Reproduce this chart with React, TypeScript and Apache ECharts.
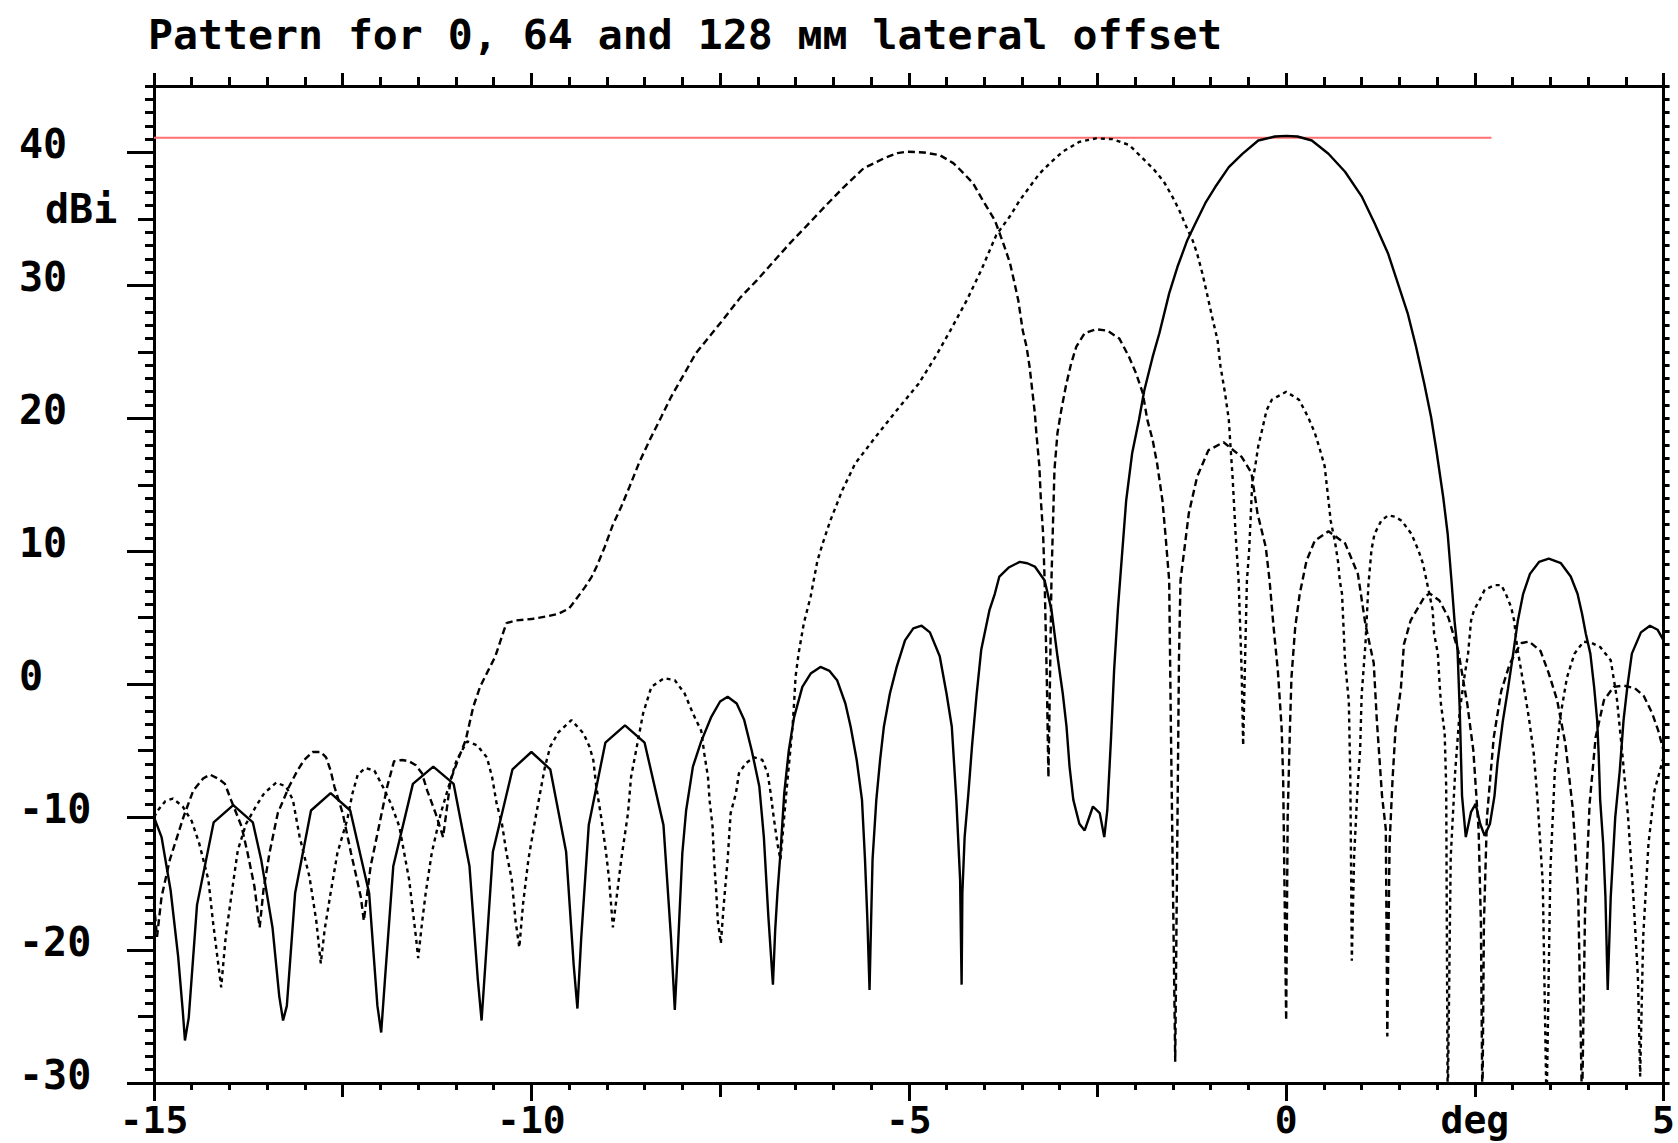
import React, { useEffect, useRef } from 'react';
import * as echarts from 'echarts';

const TITLE = 'Pattern for 0, 64 and 128 мм lateral offset';
const X_LABEL_VALUES = [-15, -10, -5, 0, 2.5, 5];
const X_LABEL_TEXTS = ['-15', '-10', '-5', '0', 'deg', '5'];
const Y_LABEL_VALUES = [40, 30, 20, 10, 0, -10, -20, -30];
const Y_UNIT_VALUE = 35;
const Y_UNIT = 'dBi';
const Y_MEDIUM_TICKS = [-25, -15, -5, 5, 15, 25, 35];
const Y_MAJOR_TICKS = [-30, -20, -10, 0, 10, 20, 30, 40];
const REFERENCE_LEVEL = 41.1;
const REFERENCE_START = -15;
const REFERENCE_END = 2.72;

// 0 mm lateral offset (solid)
const offset0mm: [number, number][] = [
  [-15.0, -10.0], [-14.9, -11.5], [-14.78, -15.5], [-14.68, -20.5], [-14.62, -24.5], [-14.59, -26.8],
  [-14.54, -25.1], [-14.43, -16.6], [-14.21, -10.4], [-13.95, -9.1], [-13.69, -10.4], [-13.58, -13.2], [-13.43, -18.3], [-13.34, -23.5], [-13.29, -25.3],
  [-13.24, -24.2], [-13.13, -15.7], [-12.92, -9.5], [-12.66, -8.2], [-12.4, -9.5], [-12.15, -15.7], [-12.04, -24.2], [-11.99, -26.2],
  [-11.94, -22.2], [-11.83, -13.7], [-11.57, -7.5], [-11.3, -6.2], [-11.03, -7.5], [-10.82, -13.7], [-10.71, -22.2], [-10.66, -25.3],
  [-10.61, -21.1], [-10.51, -12.6], [-10.25, -6.4], [-10.0, -5.1], [-9.75, -6.4], [-9.54, -12.6], [-9.44, -21.1], [-9.39, -24.4],
  [-9.34, -19.1], [-9.24, -10.6], [-9.02, -4.4], [-8.76, -3.1], [-8.5, -4.4], [-8.25, -10.6], [-8.15, -19.1], [-8.1, -24.5],
  [-8.06, -20.0], [-8.0, -12.7], [-7.95, -9.5], [-7.86, -6.2], [-7.75, -4.3], [-7.62, -2.5], [-7.5, -1.3], [-7.4, -0.95], [-7.28, -1.45], [-7.18, -2.7], [-7.08, -5.0], [-6.98, -7.7], [-6.92, -11.5], [-6.86, -17.5], [-6.8, -22.6],
  [-6.77, -18.5], [-6.74, -15.7], [-6.7, -12.7], [-6.65, -8.2], [-6.59, -5.0], [-6.52, -2.5], [-6.41, -0.2], [-6.3, 0.8], [-6.17, 1.3], [-6.05, 1.0], [-5.95, 0.3], [-5.84, -1.45], [-5.77, -3.2], [-5.69, -5.7], [-5.62, -8.7], [-5.58, -13.2], [-5.55, -17.5], [-5.52, -23.0],
  [-5.5, -18.0], [-5.48, -13.2], [-5.43, -8.7], [-5.38, -5.7], [-5.33, -3.2], [-5.25, -0.7], [-5.16, 1.3], [-5.05, 3.3], [-4.94, 4.2], [-4.83, 4.4], [-4.72, 3.9], [-4.59, 2.1], [-4.5, -0.7], [-4.43, -3.2], [-4.37, -8.7], [-4.32, -14.7], [-4.3, -22.6],
  [-4.29, -15.7], [-4.26, -11.5], [-4.21, -8.2], [-4.16, -4.5], [-4.1, -0.7], [-4.04, 2.6], [-3.93, 5.6], [-3.86, 6.8], [-3.8, 8.1], [-3.67, 8.8], [-3.53, 9.2], [-3.43, 9.1], [-3.33, 8.85], [-3.2, 7.8], [-3.11, 5.6], [-3.03, 2.1], [-2.96, -0.7], [-2.91, -3.2], [-2.87, -6.2], [-2.82, -8.7],
  [-2.74, -10.5], [-2.67, -11.0], [-2.56, -9.2], [-2.47, -9.7], [-2.41, -11.5], [-2.37, -9.5], [-2.32, -4.0], [-2.28, 1.0], [-2.23, 5.6], [-2.19, 8.6], [-2.12, 13.8], [-2.04, 17.4], [-1.95, 19.9], [-1.88, 22.1], [-1.77, 24.6], [-1.68, 26.4], [-1.55, 29.4], [-1.44, 31.4], [-1.31, 33.4], [-1.2, 34.7], [-1.07, 36.2], [-0.94, 37.4], [-0.76, 38.9], [-0.58, 39.9], [-0.37, 40.9], [-0.15, 41.2], [0.0, 41.25], [0.15, 41.2], [0.34, 40.9], [0.56, 39.9], [0.78, 38.55], [1.0, 36.7], [1.17, 34.7], [1.35, 32.4], [1.48, 30.15], [1.61, 27.9], [1.72, 25.4], [1.83, 22.6], [1.92, 20.1], [1.99, 17.6], [2.08, 14.1], [2.14, 11.3], [2.19, 7.8], [2.23, 4.8], [2.27, 2.6], [2.3, -2.0], [2.33, -8.4], [2.38, -11.5], [2.45, -9.6], [2.51, -9.0], [2.57, -10.5], [2.63, -11.4], [2.7, -10.5], [2.76, -8.4], [2.8, -5.9], [2.87, -2.8], [2.94, -0.3], [3.0, 2.0], [3.07, 4.8], [3.14, 6.8], [3.23, 8.3], [3.35, 9.2], [3.48, 9.45], [3.64, 9.1], [3.77, 8.1], [3.86, 6.8], [3.92, 5.3], [3.97, 3.8], [4.03, 2.3], [4.08, -0.2], [4.12, -2.7], [4.14, -5.2], [4.16, -8.7], [4.2, -12.0], [4.23, -16.0], [4.26, -23.0],
  [4.3, -16.0], [4.36, -10.0], [4.42, -6.5], [4.47, -2.7], [4.52, -0.2], [4.58, 2.3], [4.7, 3.9], [4.82, 4.4], [4.92, 4.1], [5.0, 3.3],
];

// 64 mm lateral offset (short dashes)
const offset64mm: [number, number][] = [
  [-15.0, -10.0], [-14.95, -9.5], [-14.85, -8.8], [-14.75, -8.6], [-14.62, -9.2], [-14.5, -10.3], [-14.4, -12.0], [-14.28, -14.7], [-14.22, -17.8], [-14.15, -21.0], [-14.11, -22.8],
  [-14.05, -19.0], [-13.97, -15.7], [-13.89, -12.5], [-13.78, -10.5], [-13.65, -9.2], [-13.54, -8.2], [-13.38, -7.4], [-13.25, -7.7], [-13.16, -8.7], [-13.07, -11.5], [-12.94, -14.5], [-12.85, -17.8], [-12.79, -21.0],
  [-12.74, -18.5], [-12.66, -15.7], [-12.57, -12.7], [-12.44, -10.2], [-12.37, -8.2], [-12.3, -6.8], [-12.2, -6.3], [-12.08, -6.5], [-11.96, -7.8], [-11.86, -9.0], [-11.75, -10.7], [-11.62, -14.7], [-11.53, -19.0], [-11.5, -20.6],
  [-11.45, -18.0], [-11.4, -15.7], [-11.32, -12.7], [-11.2, -9.7], [-11.07, -7.2], [-10.99, -5.7], [-10.85, -4.3], [-10.72, -4.6], [-10.59, -5.5], [-10.52, -7.0], [-10.46, -9.0], [-10.39, -10.5], [-10.33, -12.7], [-10.26, -14.7], [-10.21, -17.8], [-10.16, -19.8],
  [-10.11, -16.5], [-10.04, -13.2], [-9.95, -10.2], [-9.82, -6.2], [-9.75, -4.7], [-9.64, -3.6], [-9.47, -2.7], [-9.31, -3.7], [-9.23, -4.7], [-9.18, -5.7], [-9.14, -7.7], [-9.07, -10.2], [-9.01, -12.7], [-8.97, -14.7], [-8.92, -18.3],
  [-8.87, -16.0], [-8.81, -13.2], [-8.72, -9.7], [-8.68, -7.0], [-8.52, -2.2], [-8.41, -0.2], [-8.24, 0.45], [-8.1, 0.3], [-7.97, -0.7], [-7.86, -2.2], [-7.75, -3.5], [-7.71, -5.2], [-7.66, -7.0], [-7.64, -8.7], [-7.6, -10.7], [-7.58, -13.2], [-7.55, -15.7], [-7.53, -17.8], [-7.49, -19.5],
  [-7.45, -16.5], [-7.4, -13.2], [-7.36, -9.7], [-7.29, -8.2], [-7.25, -6.7], [-7.16, -5.95], [-7.05, -5.5], [-6.94, -5.7], [-6.87, -6.7], [-6.83, -8.2], [-6.79, -10.0], [-6.74, -12.0], [-6.7, -13.2],
  [-6.62, -8.0], [-6.54, -3.2], [-6.52, -1.45], [-6.5, 0.56], [-6.46, 2.3], [-6.39, 4.6], [-6.3, 6.6], [-6.21, 9.3], [-6.14, 10.6], [-6.04, 12.3], [-5.88, 14.6], [-5.71, 16.6], [-5.44, 18.6], [-5.16, 20.6], [-4.87, 22.6], [-4.65, 24.6], [-4.45, 26.6], [-4.23, 28.9], [-4.04, 31.15], [-3.84, 33.8], [-3.66, 35.2], [-3.53, 36.4], [-3.4, 37.4], [-3.27, 38.4], [-3.11, 39.3], [-2.96, 40.06], [-2.74, 40.8], [-2.52, 41.06], [-2.3, 41.0], [-2.08, 40.56], [-1.9, 39.56], [-1.75, 38.7], [-1.62, 37.8], [-1.51, 36.7], [-1.42, 35.7], [-1.33, 34.5], [-1.24, 33.4], [-1.18, 32.4], [-1.11, 30.9], [-1.05, 29.4], [-0.98, 27.6], [-0.91, 25.9], [-0.87, 23.9], [-0.81, 21.9], [-0.76, 19.9], [-0.74, 18.1], [-0.71, 15.6], [-0.67, 11.3], [-0.63, 7.8], [-0.59, 1.0], [-0.57, -4.6],
  [-0.54, 3.0], [-0.52, 7.8], [-0.49, 10.1], [-0.47, 12.6], [-0.45, 15.1], [-0.41, 16.4], [-0.37, 17.9], [-0.32, 19.1], [-0.26, 20.6], [-0.19, 21.4], [0.0, 22.0], [0.17, 21.4], [0.29, 20.1], [0.38, 18.9], [0.45, 17.6], [0.51, 16.4], [0.56, 13.85], [0.59, 12.3], [0.65, 10.6], [0.69, 9.1], [0.71, 7.8], [0.74, 6.8], [0.78, 1.7], [0.83, -1.3], [0.85, -7.1], [0.87, -20.8],
  [0.9, -13.0], [0.94, -8.4], [0.98, -4.9], [1.0, -0.8], [1.05, 3.0], [1.09, 7.5], [1.13, 10.1], [1.17, 11.3], [1.26, 12.3], [1.35, 12.7], [1.44, 12.6], [1.53, 12.3], [1.66, 11.3], [1.75, 10.1], [1.81, 9.1], [1.86, 7.8], [1.94, 5.6], [1.96, 3.8], [2.01, 2.3], [2.03, 0.3], [2.05, -1.45], [2.1, -3.7], [2.12, -7.7], [2.14, -32.0],
  [2.18, -13.0], [2.24, -6.5], [2.3, -2.0], [2.36, 0.5], [2.41, 2.3], [2.45, 4.8], [2.49, 5.6], [2.56, 6.3], [2.63, 7.1], [2.76, 7.45], [2.85, 7.45], [2.91, 6.8], [2.98, 5.8], [3.02, 4.8], [3.06, 2.8], [3.15, -0.2], [3.22, -2.7], [3.28, -5.2], [3.33, -8.7], [3.4, -15.0], [3.45, -32.0],
  [3.5, -14.0], [3.56, -6.5], [3.63, -2.5], [3.72, 0.5], [3.82, 2.3], [3.94, 3.2], [4.05, 3.1], [4.16, 2.8], [4.3, 1.8], [4.38, -1.0], [4.45, -5.0], [4.53, -10.0], [4.6, -16.0], [4.66, -22.0], [4.69, -29.5], [4.73, -19.0], [4.8, -12.0], [4.88, -8.0], [5.0, -5.5],
];

// 128 mm lateral offset (long dashes)
const offset128mm: [number, number][] = [
  [-15.0, -16.5], [-14.96, -19.0], [-14.9, -16.0], [-14.79, -13.2], [-14.61, -10.0], [-14.48, -8.0], [-14.35, -7.1], [-14.26, -6.8], [-14.15, -7.1], [-14.06, -7.5], [-13.98, -8.7], [-13.84, -10.7], [-13.76, -12.7], [-13.67, -15.2], [-13.6, -18.3],
  [-13.55, -15.5], [-13.47, -12.7], [-13.36, -9.7], [-13.21, -7.7], [-13.1, -6.5], [-13.01, -5.7], [-12.9, -5.1], [-12.79, -5.1], [-12.72, -5.5], [-12.66, -6.5], [-12.61, -7.7], [-12.5, -9.7], [-12.39, -12.7], [-12.33, -14.2], [-12.26, -16.0], [-12.22, -17.8],
  [-12.17, -15.5], [-12.13, -13.7], [-12.02, -10.7], [-11.91, -7.7], [-11.82, -5.8], [-11.71, -5.7], [-11.62, -5.8], [-11.53, -6.1], [-11.45, -6.7], [-11.38, -8.0], [-11.27, -9.7], [-11.17, -11.5],
  [-11.07, -7.2], [-10.96, -5.5], [-10.87, -4.2], [-10.77, -1.7], [-10.68, -0.2], [-10.57, 1.06], [-10.48, 2.06], [-10.39, 3.6], [-10.33, 4.6], [-10.2, 4.8], [-10.0, 4.9], [-9.8, 5.1], [-9.64, 5.3], [-9.5, 5.7], [-9.42, 6.3], [-9.29, 7.3], [-9.2, 8.1], [-9.14, 8.8], [-9.03, 10.3], [-8.92, 12.0], [-8.81, 13.35], [-8.7, 14.85], [-8.57, 16.7], [-8.43, 18.4], [-8.28, 20.1], [-8.15, 21.6], [-8.0, 23.1], [-7.82, 24.9], [-7.62, 26.3], [-7.45, 27.5], [-7.23, 29.1], [-7.01, 30.4], [-6.79, 31.8], [-6.57, 33.2], [-6.35, 34.5], [-6.1, 36.0], [-5.86, 37.4], [-5.6, 38.8], [-5.33, 39.56], [-5.15, 39.95], [-5.03, 40.06], [-4.8, 40.0], [-4.59, 39.8], [-4.41, 39.2], [-4.32, 38.7], [-4.15, 37.7], [-4.02, 36.4], [-3.86, 34.9], [-3.75, 33.2], [-3.66, 31.7], [-3.6, 30.2], [-3.55, 28.9], [-3.49, 26.6], [-3.44, 25.4], [-3.4, 23.9], [-3.36, 21.9], [-3.33, 20.4], [-3.31, 18.9], [-3.27, 16.4], [-3.25, 13.85], [-3.22, 11.3], [-3.2, 7.8], [-3.17, 0.0], [-3.15, -7.0],
  [-3.13, 0.0], [-3.11, 7.8], [-3.07, 16.1], [-3.03, 18.9], [-2.98, 20.6], [-2.92, 22.4], [-2.85, 24.1], [-2.78, 25.4], [-2.67, 26.4], [-2.52, 26.7], [-2.37, 26.6], [-2.21, 26.0], [-2.08, 24.6], [-1.99, 23.4], [-1.9, 21.9], [-1.84, 19.9], [-1.77, 18.4], [-1.71, 16.6], [-1.64, 13.85], [-1.6, 11.3], [-1.55, 7.8], [-1.53, -2.0], [-1.47, -28.4],
  [-1.42, 2.0], [-1.4, 7.8], [-1.29, 12.85], [-1.18, 15.6], [-1.03, 17.6], [-0.83, 18.2], [-0.59, 17.1], [-0.46, 15.9], [-0.38, 12.85], [-0.27, 10.3], [-0.22, 7.8], [-0.17, 4.5], [-0.11, 1.0], [-0.06, -3.3], [-0.04, -7.1], [0.0, -25.3],
  [0.02, -10.0], [0.05, -3.3], [0.07, 0.5], [0.12, 4.3], [0.18, 6.8], [0.27, 9.3], [0.38, 10.8], [0.56, 11.5], [0.78, 10.6], [0.95, 8.3], [1.05, 4.5], [1.16, 1.6], [1.2, -2.6], [1.27, -8.4], [1.32, -10.9], [1.34, -26.5],
  [1.37, -12.0], [1.41, -7.1], [1.45, -3.3], [1.52, -0.3], [1.56, 3.0], [1.65, 4.8], [1.83, 6.55], [1.9, 6.83], [2.03, 6.3], [2.15, 5.0], [2.28, 2.5], [2.4, -1.5], [2.48, -5.0], [2.55, -11.0], [2.58, -18.0], [2.6, -32.0],
  [2.62, -18.0], [2.66, -10.0], [2.75, -4.0], [2.85, -0.5], [2.96, 1.5], [3.06, 2.6], [3.12, 3.1], [3.22, 3.2], [3.37, 2.5], [3.48, 0.8], [3.59, -1.2], [3.7, -4.5], [3.8, -9.5], [3.87, -16.0], [3.92, -32.0],
  [3.96, -17.0], [4.02, -9.0], [4.1, -4.0], [4.21, -1.2], [4.34, -0.2], [4.47, -0.1], [4.62, -0.3], [4.74, -0.9], [4.85, -2.2], [4.93, -3.5], [5.0, -5.0],
];

const FONT = '"DejaVu Sans Mono", "Liberation Mono", monospace';
const BLACK = '#000000';

function xLabel(v: number): string {
  const i = X_LABEL_VALUES.findIndex((x) => Math.abs(x - v) < 1e-6);
  return i >= 0 ? X_LABEL_TEXTS[i] : '';
}

function yLabel(v: number): string {
  if (Math.abs(v - Y_UNIT_VALUE) < 1e-6) return '{u|' + Y_UNIT + '}';
  return Y_LABEL_VALUES.some((y) => Math.abs(y - v) < 1e-6) ? String(Math.round(v)) : '';
}

const tickStyle = { color: BLACK, width: 3 };

export default function App() {
  const ref = useRef<HTMLDivElement>(null);

  useEffect(() => {
    if (!ref.current) return;
    const chart = echarts.init(ref.current, undefined, { renderer: 'svg' });
    const xCommon = { type: 'value', min: -15, max: 5, splitLine: { show: false }, minorSplitLine: { show: false } };
    const yCommon = { type: 'value', min: -30, max: 45, splitLine: { show: false }, minorSplitLine: { show: false } };
    chart.setOption({
      animation: false,
      backgroundColor: '#ffffff',
      title: {
        text: TITLE,
        left: 148,
        top: 13,
        padding: 0,
        textStyle: { fontFamily: FONT, fontWeight: 'bold', fontSize: 41.5, color: BLACK },
      },
      grid: { left: 154, right: 8, top: 86, bottom: 60, containLabel: false },
      xAxis: [
        {
          ...xCommon,
          position: 'bottom',
          interval: 2.5,
          axisLine: { show: true, onZero: false, lineStyle: tickStyle },
          axisTick: { show: true, length: 14, lineStyle: tickStyle },
          minorTick: { show: true, splitNumber: 5, length: 7, lineStyle: tickStyle },
          axisLabel: {
            show: true,
            margin: 18,
            lineHeight: 38,
            formatter: xLabel,
            fontFamily: FONT,
            fontWeight: 'bold',
            fontSize: 38,
            color: BLACK,
          },
        },
        {
          ...xCommon,
          position: 'top',
          interval: 2.5,
          axisLine: { show: true, onZero: false, lineStyle: tickStyle },
          axisTick: { show: true, length: 13, lineStyle: tickStyle },
          minorTick: { show: true, splitNumber: 5, length: 9, lineStyle: tickStyle },
          axisLabel: { show: false },
        },
        {
          ...xCommon,
          position: 'bottom',
          interval: 5,
          axisLine: { show: false, onZero: false },
          axisTick: { show: true, length: 18, lineStyle: tickStyle },
          axisLabel: { show: false },
        },
      ],
      yAxis: [
        {
          ...yCommon,
          position: 'left',
          interval: 5,
          axisLine: { show: true, onZero: false, lineStyle: tickStyle },
          axisTick: { show: true, length: 16, lineStyle: tickStyle, customValues: Y_MEDIUM_TICKS },
          axisLabel: {
            show: true,
            align: 'left',
            margin: 135,
            padding: [0, 0, 16, 0],
            formatter: yLabel,
            fontFamily: FONT,
            fontWeight: 'bold',
            fontSize: 40,
            color: BLACK,
            rich: {
              u: { fontFamily: FONT, fontWeight: 'bold', fontSize: 40, color: BLACK, padding: [0, 0, 4, 26] },
            },
          },
        },
        {
          ...yCommon,
          position: 'left',
          interval: 10,
          axisLine: { show: false, onZero: false },
          axisTick: { show: true, length: 27, lineStyle: tickStyle, customValues: Y_MAJOR_TICKS },
          axisLabel: { show: false },
        },
        {
          ...yCommon,
          position: 'left',
          interval: 1,
          axisLine: { show: false, onZero: false },
          axisTick: { show: true, length: 9, lineStyle: tickStyle },
          axisLabel: { show: false },
        },
        {
          ...yCommon,
          position: 'right',
          interval: 1,
          axisLine: { show: true, onZero: false, lineStyle: tickStyle },
          axisTick: { show: true, length: 6, lineStyle: tickStyle },
          axisLabel: { show: false },
        },
      ],
      series: [
        {
          name: 'reference',
          type: 'line',
          silent: true,
          showSymbol: false,
          symbol: 'none',
          data: [[REFERENCE_START, REFERENCE_LEVEL], [REFERENCE_END, REFERENCE_LEVEL]],
          lineStyle: { color: '#ff6f6f', width: 2 },
          z: 1,
        },
        {
          name: '128 mm',
          type: 'line',
          silent: true,
          showSymbol: false,
          symbol: 'none',
          data: offset128mm,
          lineStyle: { color: BLACK, width: 2.4, type: [7, 4] },
          z: 2,
        },
        {
          name: '64 mm',
          type: 'line',
          silent: true,
          showSymbol: false,
          symbol: 'none',
          data: offset64mm,
          lineStyle: { color: BLACK, width: 2.4, type: [4, 4] },
          z: 3,
        },
        {
          name: '0 mm',
          type: 'line',
          silent: true,
          showSymbol: false,
          symbol: 'none',
          data: offset0mm,
          lineStyle: { color: BLACK, width: 2.4, type: 'solid' },
          z: 4,
        },
      ],
    });
    return () => chart.dispose();
  }, []);

  return (
    <div
      ref={ref}
      style={{ position: 'fixed', left: 0, top: 0, width: 1678, height: 1143, background: '#ffffff' }}
    />
  );
}
